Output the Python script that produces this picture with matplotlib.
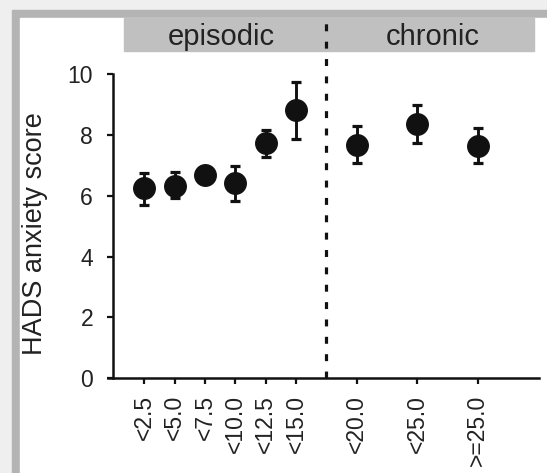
import matplotlib
matplotlib.use("Agg")
import matplotlib.pyplot as plt
from matplotlib.patches import Rectangle

plt.rcParams['font.family'] = ['Liberation Sans', 'DejaVu Sans']
plt.rcParams['lines.scale_dashes'] = False

labels = ["<2.5", "<5.0", "<7.5", "<10.0", "<12.5", "<15.0", "<20.0", "<25.0", ">=25.0"]
xpos = [1, 2, 3, 4, 5, 6, 8, 10, 12]
means = [6.24, 6.33, 6.69, 6.42, 7.72, 8.81, 7.67, 8.35, 7.62]
upper = [6.74, 6.79, 6.85, 6.98, 8.15, 9.74, 8.30, 8.97, 8.21]
lower = [5.70, 5.92, 6.53, 5.84, 7.26, 7.88, 7.07, 7.73, 7.06]
groups = ["episodic", "chronic"]
group_x = [3.55, 10.5]
split_x = 7

err = [[m - l for m, l in zip(means, lower)], [u - m for m, u in zip(means, upper)]]

fig = plt.figure(figsize=(5.47, 4.73), dpi=100)
fig.patches.append(Rectangle((0, 0), 1, 1, transform=fig.transFigure, color="#efefef", zorder=-10))
fig.patches.append(Rectangle((12 / 547, 0), 1, (473 - 10) / 473, transform=fig.transFigure,
                             color="#b4b4b4", zorder=-9))
fig.patches.append(Rectangle((20 / 547, 0), 1, (473 - 18) / 473, transform=fig.transFigure,
                             color="white", zorder=-8))

ax = fig.add_axes([108 / 547, 94.7 / 473, 431 / 547, 304.3 / 473])
ax.patch.set_alpha(0)

ink = "#111111"
txt = "#222222"
ax.errorbar(xpos, means, yerr=err, fmt='o', color=ink, ms=15.5, elinewidth=2.1,
            capsize=3.8, capthick=2.3, zorder=3)

ax.set_xlim(-0.2, 14.02)
ax.set_ylim(0, 10)
ax.set_xticks(xpos)
ax.set_xticklabels(labels, rotation=90)
ax.set_yticks([0, 2, 4, 6, 8, 10])
ax.tick_params(axis='both', direction='out', length=4.5, width=1.6, labelsize=16.5,
               color=ink, labelcolor=txt)
ax.tick_params(axis='y', pad=10)
ax.tick_params(axis='x', pad=7.5)

for s in ['top', 'right']:
    ax.spines[s].set_visible(False)
ax.spines['left'].set_position(('data', -0.03))
for s in ['left', 'bottom']:
    ax.spines[s].set_linewidth(1.8)
    ax.spines[s].set_color(ink)

ax.set_ylabel("HADS anxiety score", fontsize=19.5, color=txt)
ax.yaxis.set_label_coords(-0.139, 0.476)

# header band and divider
ax.add_patch(Rectangle((0.33, 10.75), 13.86 - 0.33, 11.84 - 10.75, color="#c0c0c0",
                       clip_on=False, zorder=1))
ax.plot([split_x, split_x], [0, 11.84], color=ink, lw=2.3, linestyle=(0, (5, 7.5)),
        clip_on=False, zorder=2)
for g, gx in zip(groups, group_x):
    ax.text(gx, 10.95, g, ha='center', va='baseline', fontsize=21, color=txt, zorder=3)

fig.savefig("out.png", dpi=100)
